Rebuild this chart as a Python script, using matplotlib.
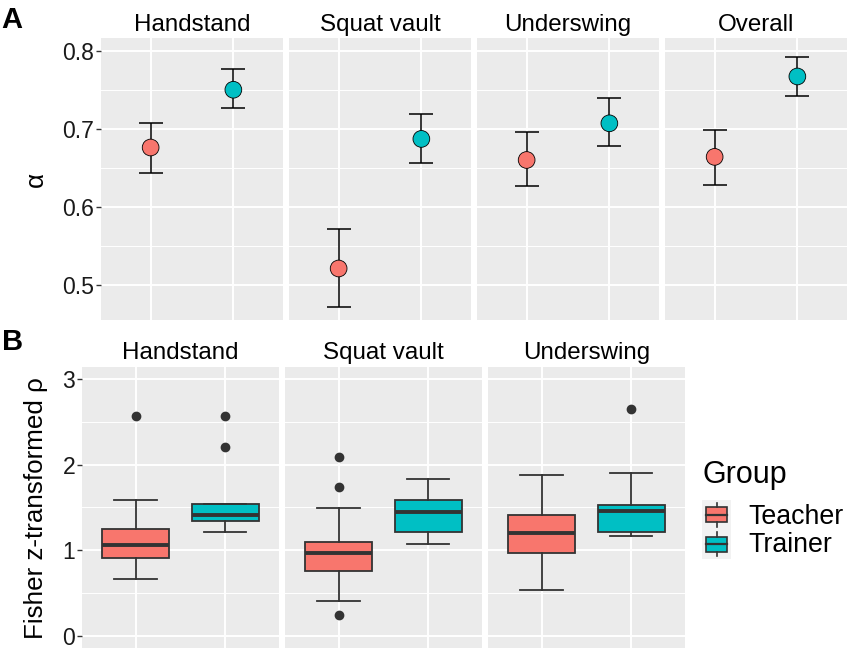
import numpy as np
import matplotlib
matplotlib.use('Agg')
import matplotlib.pyplot as plt
from matplotlib.patches import Rectangle

plt.rcParams['font.family'] = ['Liberation Sans', 'DejaVu Sans']

# Panel A: alpha with confidence intervals
skills_a = ['Handstand', 'Squat vault', 'Underswing', 'Overall']
alpha_teacher = [0.676, 0.521, 0.660, 0.664]
alpha_teacher_lo = [0.643, 0.472, 0.627, 0.628]
alpha_teacher_hi = [0.708, 0.572, 0.696, 0.698]
alpha_trainer = [0.750, 0.687, 0.707, 0.767]
alpha_trainer_lo = [0.726, 0.656, 0.678, 0.742]
alpha_trainer_hi = [0.777, 0.719, 0.739, 0.792]

# Panel B: boxplot summaries (Fisher z-transformed rho)
skills_b = ['Handstand', 'Squat vault', 'Underswing']
groups = ['Teacher', 'Trainer']
colors = ['#F8766D', '#00BFC4']
# per skill: (whislo, q1, med, q3, whishi, fliers)
box_teacher = [
    (0.666, 0.911, 1.060, 1.246, 1.585, [2.563]),
    (0.409, 0.759, 0.970, 1.091, 1.495, [2.091, 1.741, 0.242]),
    (0.537, 0.970, 1.203, 1.410, 1.877, []),
]
box_trainer = [
    (1.215, 1.343, 1.410, 1.542, 1.542, [2.563, 2.208]),
    (1.068, 1.208, 1.441, 1.582, 1.831, []),
    (1.165, 1.215, 1.457, 1.530, 1.901, [2.648]),
]

W, H = 851, 653
fig = plt.figure(figsize=(W / 100, H / 100), dpi=100)


def rect(l, t, r, b):
    return [l / W, 1 - b / H, (r - l) / W, (b - t) / H]


def style(ax, first, major, minor):
    ax.set_facecolor('#EBEBEB')
    for s in ax.spines.values():
        s.set_visible(False)
    ax.set_xlim(0.4, 2.6)
    ax.set_xticks([1, 2])
    ax.set_yticks(major)
    ax.set_yticks(minor, minor=True)
    ax.grid(True, which='major', color='white', lw=1.4, zorder=0)
    ax.grid(True, which='minor', axis='y', color='white', lw=0.7, zorder=0)
    ax.set_axisbelow(True)
    ax.tick_params(axis='x', length=0, labelbottom=False)
    ax.tick_params(axis='y', which='minor', length=0)
    if first:
        ax.tick_params(axis='y', which='major', length=3.5, width=1,
                       color='#333333', labelsize=16.6, labelcolor='#1A1A1A', pad=1.5)
    else:
        ax.tick_params(axis='y', which='major', length=0, labelleft=False)


# ---- Panel A
xa = [101, 289, 477, 665]
for i, name in enumerate(skills_a):
    ax = fig.add_axes(rect(xa[i], 38, xa[i] + 182, 320))
    style(ax, i == 0, [0.5, 0.6, 0.7, 0.8], [0.55, 0.65, 0.75])
    ax.set_ylim(0.455, 0.8163)
    ax.set_yticklabels(['0.5', '0.6', '0.7', '0.8'])
    means = [alpha_teacher[i], alpha_trainer[i]]
    lo = [alpha_teacher_lo[i], alpha_trainer_lo[i]]
    hi = [alpha_teacher_hi[i], alpha_trainer_hi[i]]
    xs = [1, 2]
    ax.errorbar(xs, means, yerr=[np.subtract(means, lo), np.subtract(hi, means)],
                fmt='none', ecolor='black', elinewidth=1.1, capsize=8.9, capthick=1.1, zorder=2)
    ax.scatter(xs, means, s=145, c=colors, edgecolors='black', linewidths=0.6, zorder=3)
    ax.set_title(name, fontsize=17.4, pad=5.3)

fig.text(1 / W, 1 - 28 / H, 'A', fontsize=21, fontweight='bold', va='baseline')
fig.text(36 / W, 1 - 179 / H, 'α', fontsize=18.7, rotation=90, va='center', ha='center')

# ---- Panel B
xb = [82.3, 285.3, 488.3]
for i, name in enumerate(skills_b):
    ax = fig.add_axes(rect(xb[i], 366.7, xb[i] + 196.3, 648))
    style(ax, i == 0, [0, 1, 2, 3], [0.5, 1.5, 2.5])
    ax.set_ylim(-0.144, 3.144)
    stats = []
    for b in (box_teacher[i], box_trainer[i]):
        stats.append(dict(whislo=b[0], q1=b[1], med=b[2], q3=b[3], whishi=b[4], fliers=b[5]))
    bp = ax.bxp(stats, positions=[1, 2], widths=0.75, capwidths=0.48, patch_artist=True,
                boxprops=dict(edgecolor='#333333', lw=1.3),
                medianprops=dict(color='#333333', lw=2.8),
                whiskerprops=dict(color='#333333', lw=1.3),
                capprops=dict(color='#333333', lw=1.3),
                flierprops=dict(marker='o', mfc='#333333', mec='#333333', ms=6),
                manage_ticks=False, zorder=2)
    for patch, c in zip(bp['boxes'], colors):
        patch.set_facecolor(c)
    ax.set_title(name, fontsize=17.4, pad=5.5)

fig.text(2 / W, 1 - 350 / H, 'B', fontsize=21, fontweight='bold', va='baseline')
fig.text(36 / W, 1 - 508 / H, 'Fisher z-transformed ρ', fontsize=18.7, rotation=90,
         va='center', ha='center')

# ---- Legend
fig.text(703 / W, 1 - 483 / H, 'Group', fontsize=22, va='baseline')
lg = fig.add_axes(rect(702, 500, 731, 559))
lg.set_facecolor('#F2F2F2')
for s in lg.spines.values():
    s.set_visible(False)
lg.set_xticks([])
lg.set_yticks([])
lg.set_xlim(0, 1)
lg.set_ylim(0, 2)
for k, c in enumerate(colors):
    y0 = 1 - k
    lg.add_patch(Rectangle((0.125, y0 + 0.25), 0.75, 0.5, facecolor=c, edgecolor='#333333', lw=1.2))
    lg.plot([0.125, 0.875], [y0 + 0.5, y0 + 0.5], color='#333333', lw=1.6)
    lg.plot([0.5, 0.5], [y0 + 0.1, y0 + 0.25], color='#333333', lw=1.2)
    lg.plot([0.5, 0.5], [y0 + 0.75, y0 + 0.9], color='#333333', lw=1.2)
fig.text(748 / W, 1 - 523.5 / H, groups[0], fontsize=19.3, va='baseline')
fig.text(748 / W, 1 - 552 / H, groups[1], fontsize=19.3, va='baseline')

fig.savefig('out.png', dpi=100, facecolor='white')
